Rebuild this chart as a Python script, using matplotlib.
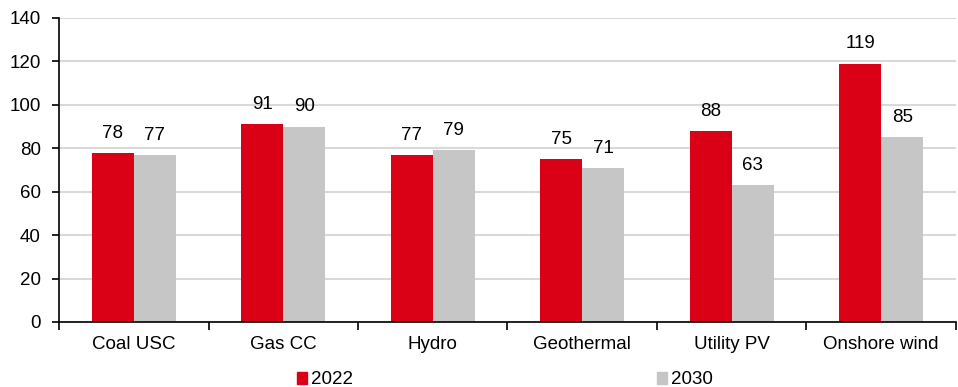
import matplotlib
matplotlib.use("Agg")
import matplotlib.pyplot as plt
from matplotlib.patches import Patch
import numpy as np

categories = ["Coal USC", "Gas CC", "Hydro", "Geothermal", "Utility PV", "Onshore wind"]
series_names = ["2022", "2030"]
values_2022 = [78, 91, 77, 75, 88, 119]
values_2030 = [77, 90, 79, 71, 63, 85]
yticks = [0, 20, 40, 60, 80, 100, 120, 140]

RED = "#DA0016"
GRAY = "#C6C6C6"

plt.rcParams['font.family'] = ['Liberation Sans', 'DejaVu Sans']
FS = 13.5

fig = plt.figure(figsize=(9.58, 3.87), dpi=100)
ax = fig.add_axes([59/958, 65/387, (956-59)/958, (322-18)/387])

x = np.arange(len(categories))
w = 0.28
b1 = ax.bar(x - w/2, values_2022, w, color=RED, label=series_names[0], zorder=3)
b2 = ax.bar(x + w/2, values_2030, w, color=GRAY, label=series_names[1], zorder=3)

for bars, vals in ((b1, values_2022), (b2, values_2030)):
    for r, v in zip(bars, vals):
        ax.annotate(f"{v}", (r.get_x() + r.get_width()/2, v), xytext=(0, 8),
                    textcoords="offset points", ha="center", va="bottom", fontsize=FS)

ax.set_xlim(-0.5, len(categories) - 0.5)
ax.set_ylim(0, 140)
ax.set_yticks(yticks)
ax.set_yticklabels([str(t) for t in yticks], fontsize=FS)
ax.set_xticks(x)
ax.set_xticklabels(categories, fontsize=FS)
ax.tick_params(axis='x', length=0, pad=10)
ax.set_xticks(np.arange(len(categories) + 1) - 0.5, minor=True)
ax.tick_params(axis='x', which='minor', length=6, width=1.2, color='black', direction='out')
ax.tick_params(axis='y', length=5, width=1.2, direction='out', pad=8)

ax.grid(axis='y', color='#D9D9D9', linewidth=1.5, zorder=0)
ax.set_axisbelow(True)
for s in ['top', 'right']:
    ax.spines[s].set_visible(False)
for s in ['left', 'bottom']:
    ax.spines[s].set_linewidth(1.2)
    ax.spines[s].set_color('black')
    ax.spines[s].set_zorder(4)

handles = [Patch(color=RED), Patch(color=GRAY)]
fig.canvas.draw()
r = fig.canvas.get_renderer()
fs_px = FS * 100 / 72
t = fig.text(0, 0, series_names[0], fontsize=FS)
tw = t.get_window_extent(r).width
t.remove()
gap_px = (657 - 297) - (0.55 * fs_px + 0.2 * fs_px + tw)
fig.legend(handles, series_names, loc='center left', bbox_to_anchor=(297/958, 1 - 380/387),
           ncol=2, frameon=False, fontsize=FS, handlelength=0.55, handleheight=0.55,
           handletextpad=0.2, columnspacing=gap_px / fs_px, borderpad=0, borderaxespad=0)

fig.savefig("out.png", dpi=100)
